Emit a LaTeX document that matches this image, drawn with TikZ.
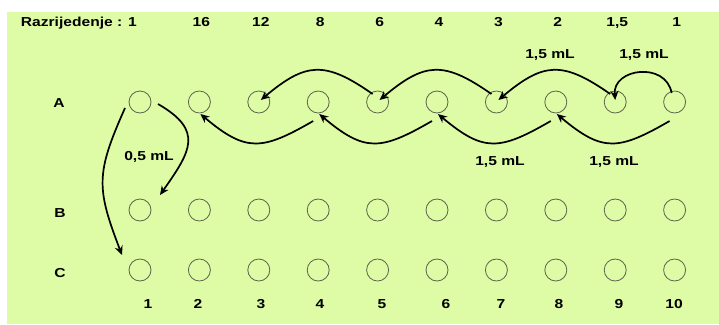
\documentclass[tikz,border=0pt]{standalone}
\usepackage{fontspec}
\newfontfamily\platefont{Liberation Sans}[FakeStretch=1.2]
\usetikzlibrary{arrows.meta}
\definecolor{platebg}{RGB}{222,251,166}
\definecolor{wellline}{RGB}{90,100,75}

\begin{document}
\begin{tikzpicture}[
        x=1bp, y=1bp,
        every node/.style={font=\platefont\bfseries\fontsize{13bp}{15bp}\selectfont, inner sep=0pt},
        well/.style={draw=wellline, circle, minimum size=22bp, line width=0.8bp},
        arr/.style={draw, line width=1.7bp, -{Stealth[length=9bp,width=8bp]}} % filled heads
      ]

      % Background
      \useasboundingbox (0,0) rectangle (719,-324);
      \fill[platebg] (7,-12) rectangle (719,-324);

      % Wells
      \foreach \i in {1,...,10} {
        \node[well] (a\i) at ({140+59.4*(\i-1)},-102) {};
        \node[well] (b\i) at ({140+59.4*(\i-1)},-210) {};
        \node[well] (c\i) at ({140+59.4*(\i-1)},-270) {};
      }

      % Row and column labels
      \node[anchor=base] (rowA) at (59,-107) {A};
      \node[anchor=base] (rowB) at (60,-217) {B};
      \node[anchor=base] (rowC) at (60,-277) {C};
      \node[anchor=base east] (dil) at (137,-26) {Razrijedenje : 1};
      \foreach \n/\t in {2/16,3/12,4/8,5/6,6/4,7/3,8/2,9/{1,5},10/1}
        \node[anchor=base] (dil\n) at ({142+59.4*(\n-1)},-26) {\t};
      \foreach \n/\x in {1/148,2/198,3/261,4/320,5/382,6/446,7/501,8/559,9/619,10/674}
        \node[anchor=base] (col\n) at (\x,-308) {\n};

      % Volumes
      \node[anchor=base] (vol1) at (644,-58) {1,5 mL};
      \node[anchor=base] (vol2) at (550,-58) {1,5 mL};
      \node[anchor=base] (vol3) at (614,-165) {1,5 mL};
      \node[anchor=base] (vol4) at (500,-165) {1,5 mL};
      \node[anchor=base] (vol5) at (149,-160) {0,5 mL};

      % Transfers over the top
      \draw[arr] ([shift={(-3,9)}]a10.center) to[out=100,in=95,looseness=1.45] ([shift={(0,2)}]a9.center);
      \draw[arr] ([shift={(-5,8)}]a9.center) to[out=145,in=40,looseness=1.34] ([shift={(2,2)}]a7.center);
      \draw[arr] ([shift={(-5,8)}]a7.center) to[out=145,in=40,looseness=1.34] ([shift={(2,2)}]a5.center);
      \draw[arr] ([shift={(-5,8)}]a5.center) to[out=145,in=40,looseness=1.34] ([shift={(2,2)}]a3.center);

      % Transfers underneath
      \draw[arr] ([shift={(-5,-19)}]a10.center) to[out=-150,in=-40,looseness=1.35] ([shift={(1,-12)}]a8.center);
      \draw[arr] ([shift={(-5,-19)}]a8.center) to[out=-150,in=-40,looseness=1.35] ([shift={(1,-12)}]a6.center);
      \draw[arr] ([shift={(-5,-19)}]a6.center) to[out=-150,in=-40,looseness=1.35] ([shift={(1,-12)}]a4.center);
      \draw[arr] ([shift={(-5,-19)}]a4.center) to[out=-150,in=-40,looseness=1.35] ([shift={(1,-12)}]a2.center);

      % Down to rows B and C
      \draw[arr] ([shift={(18,-2)}]a1.center) to[out=-30,in=55,looseness=1.5] ([shift={(20,15)}]b1.center);
      \draw[arr] ([shift={(-15,-6)}]a1.center) to[out=-114,in=111,looseness=1.25] ([shift={(-18,15)}]c1.center);

    \end{tikzpicture}
\end{document}
